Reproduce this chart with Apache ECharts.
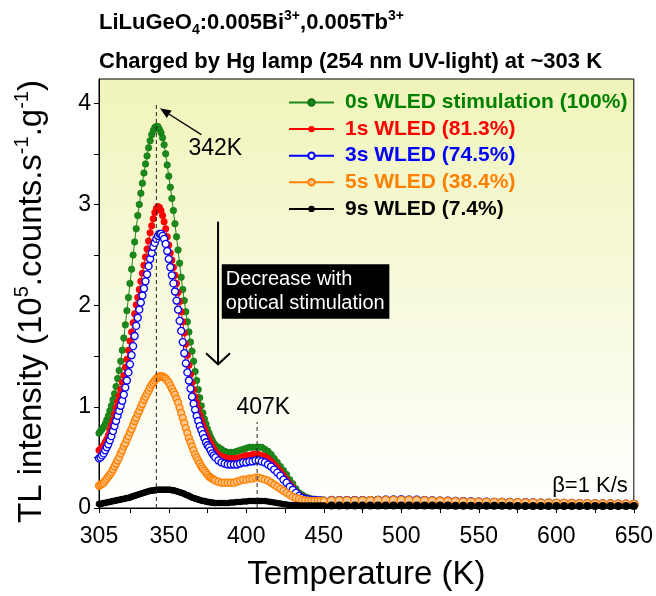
<!DOCTYPE html>
<html>
<head>
<meta charset="utf-8">
<script src="https://cdn.jsdelivr.net/npm/echarts@6/dist/echarts.min.js"></script>
<style>
  html, body { margin: 0; padding: 0; background: #fff; }
  #main { width: 656px; height: 596px; }
</style>
</head>
<body>
<div id="main"></div>
<script>
// temperature points (K)
var temps = [
  305,306,307,308,309,310,311,312,313,314,315,316,317,318,319,320,321,322,323,324,
  325,326,327,328,329,330,331,332,333,334,335,336,337,338,339,340,341,342,343,344,
  345,346,347,348,349,350,351,352,353,354,355,356,357,358,359,360,361,362,363,364,
  365,366,367,368,369,370,371,372,373,374,375,376,377,378,379,380,
  382,384,386,388,390,392,394,396,398,400,402,404,406,408,410,412,414,416,418,420,
  422,424,426,428,430,432,434,436,438,440,442,444,446,448,450,
  455,460,465,470,475,480,485,490,495,500,505,510,515,520,525,530,535,540,545,550,
  555,560,565,570,575,580,585,590,595,600,605,610,615,620,625,630,635,640,645,650
];

// TL intensity, 10^5 counts/s/g
var wled0s = [
  0.74,0.76,0.78,0.80,0.83,0.87,0.91,0.96,1.01,1.07,1.13,1.20,1.28,1.36,1.45,1.56,1.68,1.81,1.95,2.08,
  2.22,2.36,2.50,2.63,2.76,2.89,3.00,3.11,3.21,3.31,3.40,3.48,3.56,3.63,3.69,3.73,3.76,3.77,3.77,3.74,
  3.71,3.66,3.59,3.50,3.39,3.28,3.17,3.06,2.94,2.81,2.68,2.55,2.42,2.28,2.16,2.05,1.94,1.84,1.74,1.64,
  1.55,1.45,1.35,1.26,1.17,1.09,1.01,0.94,0.88,0.83,0.78,0.74,0.70,0.67,0.64,0.62,
  0.60,0.58,0.56,0.55,0.55,0.55,0.56,0.57,0.58,0.59,0.60,0.60,0.60,0.60,0.60,0.58,0.56,0.53,0.49,0.45,
  0.41,0.37,0.33,0.28,0.24,0.19,0.15,0.13,0.11,0.10,0.09,0.085,0.08,0.08,0.08,
  0.078,0.077,0.076,0.076,0.076,0.077,0.078,0.080,0.082,0.082,0.080,0.078,0.075,0.072,0.070,0.068,0.066,0.064,0.062,0.060,
  0.058,0.056,0.055,0.054,0.053,0.052,0.050,0.048,0.046,0.045,0.044,0.043,0.042,0.040,0.040,0.038,0.037,0.036,0.035,0.035
];
var wled1s = [
  0.57,0.58,0.60,0.62,0.65,0.68,0.72,0.77,0.82,0.87,0.93,0.99,1.05,1.11,1.17,1.24,1.31,1.39,1.47,1.56,
  1.65,1.74,1.83,1.92,2.01,2.08,2.16,2.24,2.32,2.40,2.48,2.56,2.64,2.72,2.79,2.86,2.92,2.96,2.98,2.97,
  2.94,2.89,2.83,2.76,2.68,2.60,2.52,2.45,2.38,2.30,2.22,2.13,2.04,1.94,1.84,1.73,1.62,1.51,1.41,1.32,
  1.24,1.17,1.10,1.04,0.98,0.92,0.87,0.82,0.78,0.74,0.70,0.67,0.64,0.61,0.58,0.56,
  0.53,0.51,0.50,0.49,0.49,0.49,0.49,0.50,0.51,0.52,0.52,0.53,0.53,0.53,0.52,0.51,0.49,0.46,0.43,0.40,
  0.36,0.32,0.28,0.24,0.20,0.16,0.13,0.11,0.10,0.09,0.085,0.08,0.08,0.075,0.075,
  0.075,0.074,0.073,0.073,0.073,0.074,0.075,0.077,0.079,0.079,0.077,0.075,0.072,0.069,0.067,0.065,0.063,0.061,0.059,0.057,
  0.055,0.054,0.053,0.052,0.051,0.050,0.048,0.046,0.045,0.044,0.043,0.042,0.041,0.040,0.039,0.038,0.037,0.036,0.035,0.034
];
var wled3s = [
  0.49,0.50,0.52,0.54,0.57,0.60,0.63,0.67,0.71,0.76,0.81,0.86,0.91,0.96,1.01,1.06,1.12,1.19,1.26,1.34,
  1.42,1.51,1.60,1.70,1.80,1.88,1.96,2.03,2.10,2.17,2.24,2.31,2.39,2.46,2.52,2.58,2.62,2.66,2.69,2.71,
  2.71,2.69,2.66,2.61,2.54,2.46,2.38,2.30,2.22,2.14,2.05,1.96,1.85,1.75,1.64,1.53,1.43,1.34,1.26,1.18,
  1.10,1.03,0.97,0.91,0.86,0.81,0.77,0.73,0.69,0.65,0.62,0.60,0.57,0.54,0.52,0.50,
  0.47,0.45,0.44,0.43,0.43,0.43,0.43,0.44,0.45,0.45,0.46,0.46,0.47,0.47,0.46,0.45,0.43,0.41,0.38,0.35,
  0.32,0.28,0.25,0.21,0.18,0.15,0.12,0.10,0.09,0.085,0.08,0.08,0.075,0.075,0.07,
  0.070,0.070,0.070,0.070,0.070,0.071,0.072,0.074,0.076,0.077,0.076,0.074,0.071,0.068,0.066,0.064,0.062,0.060,0.058,0.056,
  0.055,0.054,0.053,0.052,0.051,0.050,0.048,0.046,0.045,0.044,0.043,0.042,0.041,0.040,0.039,0.038,0.037,0.036,0.035,0.034
];
var wled5s = [
  0.22,0.23,0.24,0.25,0.27,0.29,0.31,0.33,0.35,0.38,0.41,0.44,0.47,0.50,0.54,0.57,0.61,0.64,0.68,0.71,
  0.75,0.78,0.82,0.86,0.89,0.93,0.96,1.00,1.03,1.07,1.10,1.13,1.16,1.19,1.22,1.24,1.26,1.28,1.29,1.30,
  1.30,1.30,1.29,1.28,1.26,1.24,1.21,1.18,1.15,1.12,1.08,1.04,0.99,0.94,0.89,0.84,0.79,0.74,0.69,0.65,
  0.61,0.57,0.53,0.50,0.47,0.44,0.41,0.39,0.37,0.35,0.33,0.31,0.30,0.29,0.28,0.27,
  0.26,0.25,0.25,0.25,0.25,0.25,0.26,0.27,0.28,0.28,0.29,0.29,0.30,0.30,0.29,0.28,0.27,0.25,0.23,0.21,
  0.19,0.17,0.15,0.13,0.11,0.10,0.09,0.08,0.075,0.07,0.07,0.07,0.07,0.07,0.07,
  0.068,0.067,0.067,0.067,0.068,0.069,0.070,0.072,0.073,0.073,0.072,0.070,0.068,0.066,0.064,0.062,0.060,0.058,0.056,0.055,
  0.054,0.053,0.052,0.051,0.050,0.049,0.048,0.046,0.045,0.044,0.043,0.042,0.041,0.040,0.039,0.038,0.037,0.036,0.035,0.034
];
var wled9s = [
  0.04,0.04,0.045,0.05,0.05,0.055,0.06,0.06,0.065,0.07,0.07,0.075,0.08,0.08,0.085,0.09,0.09,0.095,0.10,0.10,
  0.105,0.11,0.115,0.12,0.125,0.13,0.135,0.14,0.145,0.15,0.155,0.16,0.165,0.17,0.17,0.175,0.175,0.18,0.18,0.18,
  0.18,0.18,0.18,0.18,0.18,0.18,0.18,0.175,0.175,0.17,0.165,0.16,0.155,0.15,0.145,0.14,0.13,0.125,0.12,0.11,
  0.105,0.10,0.095,0.09,0.085,0.08,0.075,0.07,0.07,0.065,0.06,0.06,0.055,0.055,0.05,0.05,
  0.05,0.05,0.05,0.05,0.055,0.055,0.06,0.06,0.065,0.065,0.07,0.07,0.07,0.07,0.07,0.07,0.065,0.06,0.055,0.05,
  0.045,0.04,0.035,0.03,0.03,0.03,0.025,0.025,0.025,0.025,0.025,0.025,0.025,0.025,0.025,
  0.025,0.025,0.025,0.025,0.025,0.025,0.025,0.025,0.025,0.025,0.025,0.025,0.024,0.024,0.024,0.024,0.023,0.023,0.023,0.023,
  0.022,0.022,0.022,0.022,0.021,0.021,0.021,0.021,0.020,0.020,0.020,0.020,0.020,0.020,0.020,0.020,0.020,0.020,0.020,0.020
];

var names = ['0s WLED stimulation (100%)', '1s WLED (81.3%)', '3s WLED (74.5%)', '5s WLED (38.4%)', '9s WLED (7.4%)'];
var textColors = ['#008000', '#ff0000', '#0000ff', '#ff8000', '#000000'];

var xTicks = [305, 325, 350, 375, 400, 425, 450, 475, 500, 525, 550, 575, 600, 625, 650];
var xLabels = [305, 350, 400, 450, 500, 550, 600, 650];
var yTicks = [0, 0.5, 1, 1.5, 2, 2.5, 3, 3.5, 4];
var yLabels = [0, 1, 2, 3, 4];

var FONT = 'Arial, "Liberation Sans", sans-serif';

function pairs(vals) {
  return temps.map(function (t, i) { return [t, vals[i]]; });
}
// markers overlap into a band on the flat tail
function markSize(base) {
  return function (val) { return val[0] > 452 ? base + 1.5 : base; };
}

var chart = echarts.init(document.getElementById('main'));

var option = {
  animation: false,
  backgroundColor: '#fff',
  title: [
    {
      left: 94, top: 4,
      text: '{b|LiLuGeO}{sub|4}{b|:0.005Bi}{sup|3+}{b|,0.005Tb}{sup|3+}',
      textStyle: {
        rich: {
          b: { fontSize: 22, fontWeight: 'bold', fontFamily: FONT, color: '#000', lineHeight: 28 },
          sup: { fontSize: 14, fontWeight: 'bold', fontFamily: FONT, color: '#000', verticalAlign: 'top' },
          sub: { fontSize: 14, fontWeight: 'bold', fontFamily: FONT, color: '#000', verticalAlign: 'bottom' }
        }
      }
    },
    {
      left: 94, top: 46,
      text: 'Charged by Hg lamp (254 nm UV-light) at ~303 K',
      textStyle: { fontSize: 22, fontWeight: 'bold', fontFamily: FONT, color: '#000' }
    }
  ],
  legend: {
    orient: 'vertical',
    left: 283, top: 87,
    itemWidth: 45, itemHeight: 8, itemGap: 5.6,
    textStyle: { fontSize: 21, fontWeight: 'bold', fontFamily: FONT, padding: [0, 0, 0, 6] },
    data: names.map(function (n, i) { return { name: n, textStyle: { color: textColors[i] } }; })
  },
  grid: {
    left: 99, right: 21, top: 79, bottom: 84,
    show: true, borderColor: '#000', borderWidth: 1,
    backgroundColor: new echarts.graphic.LinearGradient(0, 0, 0, 1, [
      { offset: 0, color: '#f0f4ba' },
      { offset: 1, color: '#ffffff' }
    ])
  },
  xAxis: {
    type: 'value', min: 305, max: 650,
    name: 'Temperature (K)', nameLocation: 'middle', nameGap: 50,
    nameTextStyle: { fontSize: 33, fontFamily: FONT, color: '#000' },
    axisLine: { lineStyle: { color: '#000', width: 1 } },
    axisTick: { customValues: xTicks, length: 5, lineStyle: { color: '#000' } },
    axisLabel: { customValues: xLabels, fontSize: 23, fontFamily: FONT, color: '#000', margin: 17 },
    splitLine: { show: false }
  },
  yAxis: {
    type: 'value', min: 0, max: 4.24,
    name: '{t|TL intensity (10}{s|5}{t|.counts.s}{s|-1}{t|.g}{s|-1}{t|)}',
    nameLocation: 'middle', nameGap: 47,
    nameTextStyle: {
      padding: [0, 16, 0, 0],
      rich: {
        t: { fontSize: 33, fontFamily: FONT, color: '#000', lineHeight: 40 },
        s: { fontSize: 20, fontFamily: FONT, color: '#000', verticalAlign: 'top' }
      }
    },
    axisLine: { lineStyle: { color: '#000', width: 1 } },
    axisTick: { customValues: yTicks, length: 5, lineStyle: { color: '#000' } },
    axisLabel: { customValues: yLabels, fontSize: 23, fontFamily: FONT, color: '#000', margin: 8 },
    splitLine: { show: false }
  },
  series: [
    {
      name: names[0], type: 'line', data: pairs(wled0s),
      symbol: 'circle', symbolSize: markSize(6.5),
      lineStyle: { color: '#1b8a1b', width: 1 },
      itemStyle: { color: '#1b8a1b', borderColor: '#0d700d', borderWidth: 0.6 }
    },
    {
      name: names[1], type: 'line', data: pairs(wled1s),
      symbol: 'circle', symbolSize: markSize(7),
      lineStyle: { color: '#ff0000', width: 1 },
      itemStyle: { color: '#ff0000' }
    },
    {
      name: names[2], type: 'line', data: pairs(wled3s),
      symbol: 'circle', symbolSize: markSize(7),
      lineStyle: { color: '#0000ff', width: 1 },
      itemStyle: { color: '#ffffff', borderColor: '#0000ff', borderWidth: 1.3 }
    },
    {
      name: names[3], type: 'line', data: pairs(wled5s),
      symbol: 'circle', symbolSize: markSize(7),
      lineStyle: { color: '#ff8000', width: 1 },
      itemStyle: { color: '#ffc58a', borderColor: '#ff8000', borderWidth: 1.3 }
    },
    {
      name: names[4], type: 'line', data: pairs(wled9s),
      symbol: 'circle', symbolSize: markSize(6.5),
      lineStyle: { color: '#000', width: 5 },
      itemStyle: { color: '#000' }
    }
  ]
};

chart.setOption(option);

// annotations placed in data coordinates
function px(t, v) { return chart.convertToPixel({ gridIndex: 0 }, [t, v]); }

var d342a = px(342, 0), d342b = px(342, 3.99);
var d407a = px(407, 0), d407b = px(407, 0.85);
var arTail = px(371, 3.69), arTip = px(344.3, 3.95);
var bigTop = px(381.8, 2.83), bigBot = px(381.8, 1.42);
var boxA = px(384.2, 2.41), boxB = px(492.3, 1.87);
var lab342 = px(380, 3.55), lab407 = px(411, 0.99);
var beta = px(650, 0.215);

var ang = Math.atan2(arTip[1] - arTail[1], arTip[0] - arTail[0]);
var hl = 11, hw = 4.5;
var baseX = arTip[0] - hl * Math.cos(ang), baseY = arTip[1] - hl * Math.sin(ang);
var headPts = [
  arTip,
  [baseX + hw * Math.sin(ang), baseY - hw * Math.cos(ang)],
  [baseX - hw * Math.sin(ang), baseY + hw * Math.cos(ang)]
];

chart.setOption({
  graphic: [
    { type: 'line', z: 100, shape: { x1: d342a[0], y1: d342a[1], x2: d342b[0], y2: d342b[1] },
      style: { stroke: '#222', lineWidth: 1, lineDash: [4, 3] } },
    { type: 'line', z: 100, shape: { x1: d407a[0], y1: d407a[1], x2: d407b[0], y2: d407b[1] },
      style: { stroke: '#222', lineWidth: 1, lineDash: [4, 3] } },
    { type: 'line', z: 100, shape: { x1: arTail[0], y1: arTail[1], x2: baseX, y2: baseY },
      style: { stroke: '#000', lineWidth: 1.3 } },
    { type: 'polygon', z: 100, shape: { points: headPts }, style: { fill: '#000' } },
    { type: 'text', z: 100, x: lab342[0], y: lab342[1],
      style: { text: '342K', fontSize: 23, fontFamily: FONT, fill: '#000', align: 'center', verticalAlign: 'middle' } },
    { type: 'text', z: 100, x: lab407[0], y: lab407[1],
      style: { text: '407K', fontSize: 23, fontFamily: FONT, fill: '#000', align: 'center', verticalAlign: 'middle' } },
    { type: 'line', z: 100, shape: { x1: bigTop[0], y1: bigTop[1], x2: bigBot[0], y2: bigBot[1] },
      style: { stroke: '#000', lineWidth: 2 } },
    { type: 'polyline', z: 100,
      shape: { points: [[bigBot[0] - 12, bigBot[1] - 11], bigBot, [bigBot[0] + 12, bigBot[1] - 11]] },
      style: { stroke: '#000', lineWidth: 2, fill: null } },
    { type: 'rect', z: 100, shape: { x: boxA[0], y: boxA[1], width: boxB[0] - boxA[0], height: boxB[1] - boxA[1] },
      style: { fill: '#000' } },
    { type: 'text', z: 101, x: boxA[0] + 4, y: (boxA[1] + boxB[1]) / 2,
      style: { text: 'Decrease with\noptical stimulation', fontSize: 20, lineHeight: 24.5, fontFamily: FONT,
               fill: '#fff', verticalAlign: 'middle' } },
    { type: 'text', z: 100, x: beta[0] - 6, y: beta[1],
      style: { text: 'β=1 K/s', fontSize: 22, fontFamily: FONT, fill: '#000', align: 'right', verticalAlign: 'middle' } }
  ]
});
</script>
</body>
</html>
